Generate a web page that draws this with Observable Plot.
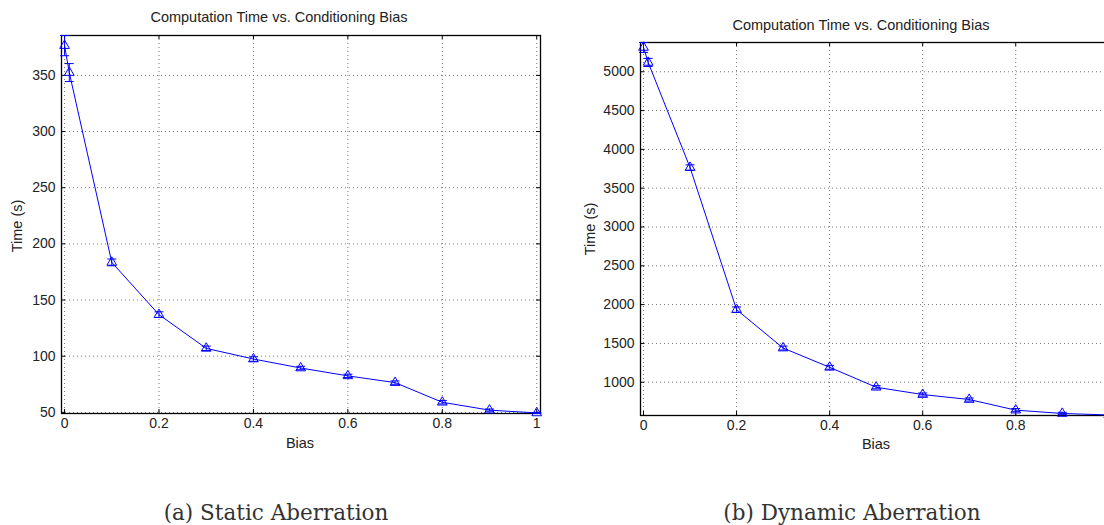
<!DOCTYPE html>
<html><head><meta charset="utf-8">
<script src="https://cdn.jsdelivr.net/npm/d3@7"></script>
<script src="https://cdn.jsdelivr.net/npm/@observablehq/plot@0.6"></script>
<style>
html,body{margin:0;padding:0;background:#fff;}
body{width:1104px;height:525px;overflow:hidden;position:relative;font-family:"Liberation Sans",Arial,sans-serif;color:#222;}
.abs{position:absolute;white-space:nowrap;}
.c{transform:translate(-50%,-50%);}
.title{font-size:14.5px;}
.axl{font-size:14.5px;}
.cap{font-family:"DejaVu Serif",serif;font-size:21.5px;color:#333;}
.rot{transform:translate(-50%,-50%) rotate(-90deg);}
svg{max-width:none !important;}
</style></head><body>
<div id="left" class="abs" style="left:0;top:0"></div>
<div id="right" class="abs" style="left:560px;top:0;width:544px;height:525px;overflow:hidden"></div>
<div class="abs c title" style="left:279px;top:17px">Computation Time vs. Conditioning Bias</div>
<div class="abs c title" style="left:861px;top:25px">Computation Time vs. Conditioning Bias</div>
<div class="abs c axl" style="left:300px;top:443px">Bias</div>
<div class="abs c axl" style="left:876px;top:444px">Bias</div>
<div class="abs rot axl" style="left:17px;top:226px">Time (s)</div>
<div class="abs rot axl" style="left:590px;top:229px">Time (s)</div>
<div class="abs c cap" style="left:276px;top:512px">(a) Static Aberration</div>
<div class="abs c cap" style="left:852px;top:512px">(b) Dynamic Aberration</div>
<script>
const bias = [0, 0.01, 0.1, 0.2, 0.3, 0.4, 0.5, 0.6, 0.7, 0.8, 0.9, 1.0];
const staticTime = [376.5, 352.5, 183.5, 137, 107, 97.5, 89.5, 82.5, 76.5, 59, 52, 49.5];
const staticErr = [9, 8, 3, 2.5, 2, 2, 1.5, 1.5, 1.5, 1.5, 1, 0.5];
const dynamicTime = [5313, 5120, 3766, 1935, 1440, 1192, 935, 841, 777, 640, 597, 578];
const dynamicErr = [64, 52, 35, 35, 25, 25, 20, 20, 20, 20, 15, 10];
const biasTicks = [0, 0.2, 0.4, 0.6, 0.8, 1];
const dynamicBiasLabels = [0, 0.2, 0.4, 0.6, 0.8];
const staticTicks = [50, 100, 150, 200, 250, 300, 350];
const dynamicTicks = [1000, 1500, 2000, 2500, 3000, 3500, 4000, 4500, 5000];

const BLUE = "#0000ff";
const capSymbol = {draw(ctx) { ctx.moveTo(-4.5, 0); ctx.lineTo(4.5, 0); }};

function chart({times, errs, yTicks, xLabels, yDomain, xDomain, width, height, ml, mr, mt, mb}) {
  const data = bias.map((b, i) => ({b, t: times[i], e: errs[i]}));
  const pw = width - ml - mr, ph = height - mt - mb;
  const grid = {stroke: "#777", strokeDasharray: "1,3", strokeOpacity: 1, strokeWidth: 1};
  return Plot.plot({
    width, height, marginLeft: ml, marginRight: mr, marginTop: mt, marginBottom: mb,
    style: {fontFamily: "'Liberation Sans', Arial, sans-serif", fontSize: "14px", color: "#222", background: "transparent", overflow: "visible", maxWidth: "none"},
    x: {domain: xDomain},
    y: {domain: yDomain},
    marks: [
      Plot.ruleX(biasTicks, {x: d => d, ...grid}),
      Plot.ruleY(yTicks, {y: d => d, ...grid}),
      Plot.tickX(biasTicks, {x: d => d, insetTop: ph - 4, stroke: "#000"}),
      Plot.tickX(biasTicks, {x: d => d, insetBottom: ph - 4, stroke: "#000"}),
      Plot.tickY(yTicks, {y: d => d, insetRight: pw - 4, stroke: "#000"}),
      Plot.tickY(yTicks, {y: d => d, insetLeft: pw - 4, stroke: "#000"}),
      Plot.frame({stroke: "#000", strokeWidth: 1.3}),
      Plot.ruleX(data, {x: "b", y1: d => d.t - d.e, y2: d => d.t + d.e, stroke: BLUE, strokeWidth: 1}),
      Plot.dot(data, {x: "b", y: d => d.t - d.e, symbol: capSymbol, r: 4, stroke: BLUE, fill: "none", strokeWidth: 1}),
      Plot.dot(data, {x: "b", y: d => d.t + d.e, symbol: capSymbol, r: 4, stroke: BLUE, fill: "none", strokeWidth: 1}),
      Plot.line(data, {x: "b", y: "t", stroke: BLUE, strokeWidth: 1}),
      Plot.dot(data, {x: "b", y: "t", symbol: "triangle", r: 3.6, stroke: BLUE, fill: "none", strokeWidth: 1}),
      Plot.axisX(xLabels, {tickSize: 0, tickPadding: 5, label: null, tickFormat: d => String(d), fill: "#222"}),
      Plot.axisY(yTicks, {tickSize: 0, tickPadding: 6, label: null, tickFormat: d => String(d), fill: "#222"})
    ]
  });
}

document.getElementById("left").append(chart({
  times: staticTime, errs: staticErr, yTicks: staticTicks, xLabels: biasTicks,
  yDomain: [49, 385.5], xDomain: [-0.0065, 1.008],
  width: 560, height: 460, ml: 61, mr: 20, mt: 35, mb: 47
}));
document.getElementById("right").append(chart({
  times: dynamicTime, errs: dynamicErr, yTicks: dynamicTicks, xLabels: dynamicBiasLabels,
  yDomain: [571, 5377], xDomain: [-0.0065, 1.008],
  width: 575, height: 460, ml: 80, mr: 23, mt: 42, mb: 45
}));
</script>
</body></html>
